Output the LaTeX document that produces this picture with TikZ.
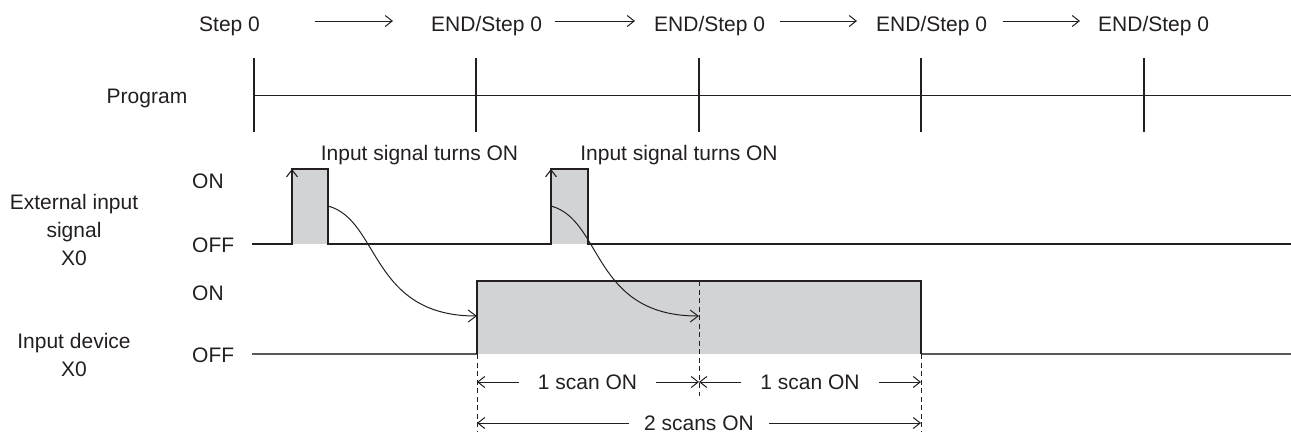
\documentclass[tikz,border=0pt]{standalone}
\usepackage{fontspec}
\setmainfont{Liberation Sans}
\usetikzlibrary{arrows.meta}
\definecolor{ink}{RGB}{35,31,32}
\definecolor{sig}{RGB}{209,211,212}
\definecolor{offgray}{RGB}{88,89,91}
\begin{document}
\begin{tikzpicture}[x=1pt,y=-1pt,
  txt/.style={font=\fontsize{21}{28}\selectfont, text=ink, inner sep=0pt},
  ctxt/.style={txt, text height=15pt, text depth=0pt},
  ln/.style={draw=ink, line width=1.1pt},
  offln/.style={draw=offgray, line width=1.5pt},
  dashln/.style={draw=ink, line width=1pt, dash pattern=on 5pt off 3.5pt},
  barb/.style={-{Straight Barb[length=7pt,width=11pt]}},
  dimtxt/.style={ctxt, inner xsep=19pt}]
\useasboundingbox (0,0) rectangle (1291,432);

% ---- top row: step labels and arrows
\node[ctxt, anchor=west] (s0) at (199,23.5) {Step 0};
\node[ctxt, anchor=west] (s1) at (431,23.5) {END/Step 0};
\node[ctxt, anchor=west] (s2) at (654,23.5) {END/Step 0};
\node[ctxt, anchor=west] (s3) at (876,23.5) {END/Step 0};
\node[ctxt, anchor=west] (s4) at (1098,23.5) {END/Step 0};
\coordinate (a0s) at (315,21); \coordinate (a0e) at (393,21);
\coordinate (a1s) at (555,21); \coordinate (a1e) at (635,21);
\coordinate (a2s) at (780,21); \coordinate (a2e) at (857,21);
\coordinate (a3s) at (1003,21); \coordinate (a3e) at (1080,21);
\draw[ln, line width=1pt, barb] (a0s) -- (a0e);
\draw[ln, line width=1pt, barb] (a1s) -- (a1e);
\draw[ln, line width=1pt, barb] (a2s) -- (a2e);
\draw[ln, line width=1pt, barb] (a3s) -- (a3e);

% ---- program line
\node[ctxt] (prog) at (147,95.5) {Program};
\coordinate (pl0) at (254,95); \coordinate (pl1) at (1291,95);
\draw[ln, line width=1pt] (pl0) -- (pl1);
\foreach \x/\n in {254/t0,476/t1,699/t2,921/t3,1144/t4}{
  \coordinate (\n a) at (\x,58); \coordinate (\n b) at (\x,132);
  \draw[ln] (\n a) -- (\n b);
}

% ---- left labels
\node[txt, anchor=base, align=center] (ext) at (74,265) {External input\\signal\\X0};
\node[txt, anchor=base, align=center] (dev) at (74,376) {Input device\\X0};
\node[txt, anchor=base west] (on1) at (192,188) {ON};
\node[txt, anchor=base west] (off1) at (192,252) {OFF};
\node[txt, anchor=base west] (on2) at (192,300) {ON};
\node[txt, anchor=base west] (off2) at (192,362) {OFF};

% ---- external input signal
\node[txt, anchor=base] (turn1) at (419.5,160) {Input signal turns ON};
\node[txt, anchor=base] (turn2) at (679,160) {Input signal turns ON};
\fill[sig] (292,244) rectangle (328,169);
\fill[sig] (551,244) rectangle (588,169);
\draw[ln, line join=miter] (252,244) -- (292,244) -- (292,169) -- (328,169) -- (328,244)
  -- (551,244) -- (551,169) -- (588,169) -- (588,244) -- (1291,244);
\coordinate (up1a) at (292,190); \coordinate (up1b) at (292,169);
\coordinate (up2a) at (551,190); \coordinate (up2b) at (551,169);
\draw[ln, barb] (up1a) -- (up1b);
\draw[ln, barb] (up2a) -- (up2b);

% ---- input device
\fill[sig] (477,354) rectangle (921,281);
\draw[offln] (252,354) -- (477,354);
\draw[offln] (921,354) -- (1291,354);
\draw[ln, line join=miter] (477,354) -- (477,281) -- (921,281) -- (921,354);
\coordinate (dA0) at (477,354); \coordinate (dA1) at (477,432);
\coordinate (dB0) at (699,281); \coordinate (dB1) at (699,396);
\coordinate (dC0) at (921,354); \coordinate (dC1) at (921,432);
\draw[dashln] (dA0) -- (dA1);
\draw[dashln] (dB0) -- (dB1);
\draw[dashln] (dC0) -- (dC1);

% ---- transfer curves
\coordinate (c1s) at (328,206); \coordinate (c1e) at (477,316);
\coordinate (c2s) at (551,206); \coordinate (c2e) at (699,316);
\draw[ln, line width=1pt, -{Straight Barb[length=8pt,width=12pt]}] (c1s) .. controls (380,220) and (370,316) .. (c1e);
\draw[ln, line width=1pt, -{Straight Barb[length=8pt,width=12pt]}] (c2s) .. controls (603,220) and (592,316) .. (c2e);

% ---- dimensions
\node[dimtxt] (sc1) at (587.5,382) {1 scan ON};
\node[dimtxt] (sc2) at (810,382) {1 scan ON};
\node[dimtxt, inner xsep=15pt] (sc3) at (699,423) {2 scans ON};
\coordinate (L1) at (477,382); \coordinate (M1) at (699,382); \coordinate (R1) at (921,382);
\coordinate (L2) at (477,423); \coordinate (R2) at (921,423);
\draw[ln, line width=1pt, barb] (sc1.west) -- (L1);
\draw[ln, line width=1pt, barb] (sc1.east) -- (M1);
\draw[ln, line width=1pt, barb] (sc2.west) -- (M1);
\draw[ln, line width=1pt, barb] (sc2.east) -- (R1);
\draw[ln, line width=1pt, barb] (sc3.west) -- (L2);
\draw[ln, line width=1pt, barb] (sc3.east) -- (R2);
\end{tikzpicture}
\end{document}
